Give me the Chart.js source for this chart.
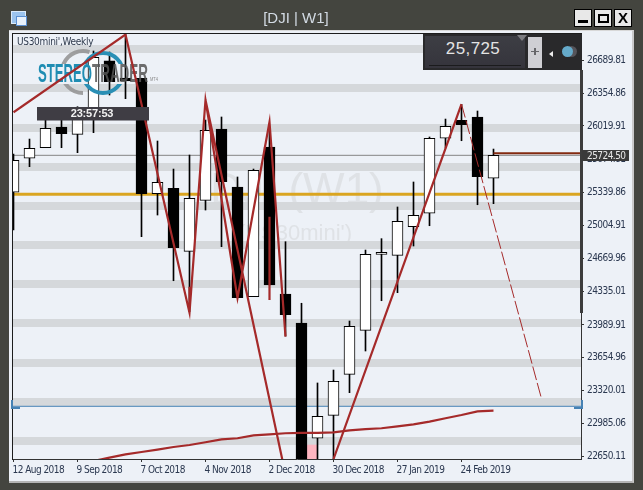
<!DOCTYPE html>
<html>
<head>
<meta charset="utf-8">
<title>[DJI | W1]</title>
<script src="https://cdn.jsdelivr.net/npm/chart.js@4"></script>
<style>
  html, body { margin: 0; padding: 0; background: #44453f; width: 643px; height: 490px; overflow: hidden; font-family: "Liberation Sans", sans-serif; }
  .box { position: absolute; }
  #pane { left: 9px; top: 30px; width: 623px; height: 450px; background: #edf1f7; border-top: 1px solid #d8d8d8; border-right: 2px solid #c9c9c9; border-bottom: 2px solid #b4b4b4; }
  #myChart { position: absolute; left: 0; top: 0; }
  #title { left: 200px; top: 9px; width: 192px; text-align: center; color: #d3dbe4; font-size: 15px; }
  .btn { top: 9px; width: 16px; height: 16px; background: #e8e8e8; border: 1px solid #000; }
</style>
</head>
<body>
<div class="box" id="pane"></div>
<canvas id="myChart" width="643" height="490"></canvas>

<div class="box" style="left:11px;top:11px;width:13px;height:11px;background:#9cc4ee;border:1px solid #dcebfa"></div>
<div class="box" style="left:16px;top:16px;width:9px;height:8px;background:#e8f1fb;border:1px solid #5b8fd0"></div>
<div class="box" id="title">[DJI | W1]</div>

<div class="box btn" style="left:574px"><div class="box" style="left:3px;top:10px;width:10px;height:3px;background:#000"></div></div>
<div class="box btn" style="left:594px"><div class="box" style="left:3px;top:4px;width:7px;height:5px;border:2px solid #000"></div></div>
<div class="box btn" style="left:614px;text-align:center;font-weight:bold;font-size:15px;line-height:16px;color:#000">X</div>

<div class="box" style="left:423px;top:34px;width:159px;height:36px;background:#29292b"></div>
<div class="box" style="left:425px;top:36px;width:100px;height:32px;background:linear-gradient(#3d3e44,#35343c)"></div>
<div class="box" style="left:429px;top:65px;width:92px;height:1px;background:#1b1b1d"></div>
<div class="box" style="left:425px;top:39px;width:96px;text-align:center;color:#e4e4e4;font-size:17px;letter-spacing:.4px">25,725</div>
<div class="box" style="left:517px;top:35px;width:0;height:0;border-left:5px solid transparent;border-right:5px solid transparent;border-top:6px solid #7c7c80"></div>
<div class="box" style="left:528px;top:37px;width:14px;height:31px;background:#cfcfd4"></div>
<div class="box" style="left:531px;top:51px;width:8px;height:1px;background:#66666a"></div>
<div class="box" style="left:534px;top:48px;width:2px;height:7px;background:#66666a"></div>
<div class="box" style="left:549px;top:51px;width:0;height:0;border-top:3px solid transparent;border-bottom:3px solid transparent;border-right:4px solid #eee"></div>
<div class="box" style="left:566px;top:46px;width:11px;height:11px;border-radius:6px;background:#55545a"></div>
<div class="box" style="left:562px;top:46px;width:11px;height:11px;border-radius:6px;background:#66abcb"></div>

<script>
// weekly candles, one entry per week starting 12 Aug 2018
var open_  = [25343,25690,25798,26009,25934,26162,26685,26509,26506,25329,25384,24741,25261,25988,25397,24278,25805,24305,24010,22834,23068,23486,23935,24710,24700,24992,25129,25894,26077,26111,25486];
var high_  = [25733,25886,26080,26101,26216,26784,26774,26952,26506,25866,25580,25723,26080,26111,25499,25580,25999,24839,24211,23398,23530,24030,24754,24870,25193,25448,25907,26090,26240,26172,25784];
var low_   = [24958,25604,25798,25798,25747,25951,26335,26298,24890,25111,24441,24125,25162,24788,24268,24278,24397,23877,22600,22600,22622,23299,23724,24237,24319,24795,25002,25795,25869,25216,25227];
var close_ = [25669,25792,25996,25941,26162,26720,26471,26478,25329,25445,24778,25282,25975,25451,24268,25567,24397,24094,22600,23058,23415,23976,24710,24731,25047,25108,25894,26016,26032,25502,25720];

// slow moving average, starts below the visible range
var maValues = [null,null,null,null,null,22602,22636,22670,22694,22719,22745,22765,22793,22823,22834,22864,22874,22885,22888,22888,22895,22915,22928,22936,22956,22976,23003,23038,23071,23109,23115];

// zigzag lines, week index and price, null breaks the line
var zigWeeks  = [0,7,11,12,14,16,17,null,12,17,null,16,16,null,11,11,null,20,28];
var zigPrices = [26159,26952,24115,26284,24265,26060,23870,null,26284,22465,null,25094,24244,null,24380,24115,null,22622,26243];
var dashWeeks  = [28,33];
var dashPrices = [26243,23238];

var bandPrices = [26804,26407,25999,25601,25203,24805,24407,24010,23602,23204,22806];
var bidPrice = 25720;
var goldPrice = 25322;
var bluePrice = 23160;
var lastPrice = 25724.50;
var brownPrice = 25740;
var pinkWeek = 18.67;
var pinkRange = [22600,22765];

var yTickLabels = ["26689.81","26354.86","26019.91","25674.81","25339.86","25004.91","24669.96","24335.01","23989.91","23654.96","23320.01","22985.06","22650.11"];
var xTickWeeks = [0,4,8,12,16,20,24,28];
var xTickLabels = ["12 Aug 2018","9 Sep 2018","7 Oct 2018","4 Nov 2018","2 Dec 2018","30 Dec 2018","27 Jan 2019","24 Feb 2019"];

var xMin = -0.03125, xMax = 35.469;
var yMin = 22622.5, yMax = 26957.5;
var axisFont = { family: "DejaVu Sans Condensed", size: 10 };
var axisColor = "#2b3850";

function lineSet(xs, ys, color, width, order, dash) {
  return {
    type: "line",
    data: xs.map(function (x, i) { return { x: x === null ? NaN : x, y: ys[i] }; }),
    borderColor: color,
    borderWidth: width,
    borderDash: dash || [],
    borderCapStyle: "butt",
    pointRadius: 0,
    tension: 0,
    spanGaps: false,
    clip: 0,
    order: order
  };
}

function hLine(price, color, width, order) {
  return lineSet([xMin, xMax], [price, price], color, width, order);
}

var datasets = [];
bandPrices.forEach(function (p) { datasets.push(hLine(p, "#d5d8db", 8, 20)); });
datasets.push(hLine(bidPrice, "#858585", 1, 19));
datasets.push(hLine(goldPrice, "#daa520", 3, 19));
datasets.push(hLine(bluePrice, "#4682b4", 1, 19));
datasets.push({
  type: "bar", data: [{ x: pinkWeek, y: pinkRange }], backgroundColor: "#ffb6c1",
  barThickness: 10.5, grouped: false, order: 18
});
datasets.push({
  type: "bar",
  data: high_.map(function (h, i) { return { x: i, y: [low_[i], h] }; }),
  backgroundColor: "#000", barThickness: 1, grouped: false, order: 17
});
datasets.push({
  type: "bar",
  data: open_.map(function (o, i) { return { x: i, y: [o, close_[i]] }; }),
  backgroundColor: open_.map(function (o, i) { return close_[i] >= o ? "#fff" : "#000"; }),
  borderColor: "#000", borderWidth: 1, borderSkipped: false,
  barThickness: 11, grouped: false, order: 16
});
var zigSet = lineSet(zigWeeks, zigPrices, "#a52a2a", 2.2, 5);
datasets.push(zigSet);
datasets.push(lineSet(maValues.map(function (v, i) { return i; }), maValues, "#a52a2a", 2.2, 4));
datasets.push(lineSet(dashWeeks, dashPrices, "#a52a2a", 1, 3, [14, 3]));
datasets.push(lineSet([30, xMax], [brownPrice, brownPrice], "#832a10", 2, 3));

// squeeze a word to a given width, the logo lettering is a condensed face
function fitText(ctx, text, x, y, w, font, color) {
  ctx.save();
  ctx.font = font;
  ctx.fillStyle = color;
  ctx.letterSpacing = "0px";
  ctx.textAlign = "left";
  ctx.textBaseline = "alphabetic";
  var tw = ctx.measureText(text).width;
  ctx.translate(x, y);
  ctx.scale(w / tw, 1);
  ctx.fillText(text, 0, 0);
  ctx.restore();
}

function drawLogo(ctx) {
  ctx.save();
  ctx.beginPath();
  ctx.rect(30, 40, 135, 24);
  ctx.rect(30, 84, 135, 24);
  ctx.clip();
  ctx.lineWidth = 4;
  ctx.strokeStyle = "rgba(150,150,150,0.9)";
  ctx.beginPath();
  ctx.arc(83, 72, 21, Math.PI * 0.5, Math.PI * 1.6);
  ctx.stroke();
  ctx.strokeStyle = "#2a8fb5";
  ctx.beginPath();
  ctx.arc(103, 73, 20, 0, Math.PI * 2);
  ctx.stroke();
  ctx.restore();
  fitText(ctx, "STEREO", 38, 82, 54, "bold 25px 'Liberation Sans'", "#1f8db3");
  fitText(ctx, "TRADER", 92, 82, 56, "bold 25px 'Liberation Sans'", "rgba(85,85,85,0.85)");
  fitText(ctx, "MT4", 150, 81, 8, "5px 'Liberation Sans'", "#8a8a8a");
}

var chromePlugin = {
  id: "chrome",
  beforeDraw: function (chart) {
    chart.ctx.letterSpacing = "-0.55px";
  },
  beforeDatasetsDraw: function (chart) {
    var ctx = chart.ctx;
    ctx.save();
    ctx.letterSpacing = "0px";
    ctx.textAlign = "center";
    ctx.fillStyle = "#dfe2e6";
    ctx.font = "44px 'Liberation Sans'";
    ctx.fillText("DJI (W1)", 297, 204);
    ctx.font = "22px 'Liberation Sans'";
    ctx.fillText("(US30mini')", 295, 240);
    ctx.restore();
  },
  beforeDatasetDraw: function (chart, args) {
    if (chart.data.datasets[args.index] === zigSet) drawLogo(chart.ctx);
  },
  afterDraw: function (chart) {
    var ctx = chart.ctx;
    var y = chart.scales.y.getPixelForValue(lastPrice);
    ctx.save();
    // plot frame and scroll marker
    ctx.fillStyle = "#1d1d1d";
    ctx.fillRect(12, 33, 570, 1);
    ctx.fillRect(12, 33, 1, 427);
    ctx.fillStyle = "#3c3c3c";
    ctx.fillRect(580, 70, 3, 243);
    // blue handles of the horizontal line
    var by = Math.round(chart.scales.y.getPixelForValue(bluePrice));
    ctx.fillStyle = "#4682b4";
    ctx.fillRect(11, by - 6, 2, 9);
    ctx.fillRect(11, by + 1, 9, 2);
    ctx.fillRect(581, by - 6, 2, 9);
    ctx.fillRect(574, by + 1, 9, 2);
    // last price tag
    ctx.fillStyle = "#3a3a3a";
    ctx.fillRect(582, Math.round(y) - 5, 47, 11);
    ctx.fillStyle = "#e8e8e8";
    ctx.font = "10px 'DejaVu Sans Condensed'";
    ctx.textAlign = "left";
    ctx.textBaseline = "middle";
    ctx.fillText(lastPrice.toFixed(2), 587, Math.round(y) + 1);
    // countdown label
    ctx.fillStyle = "#3f3d44";
    ctx.fillRect(37, 107, 112, 13.5);
    ctx.fillStyle = "#f2f2f2";
    ctx.font = "bold 11px 'Liberation Sans'";
    ctx.textAlign = "center";
    ctx.letterSpacing = "-0.2px";
    ctx.fillText("23:57:53", 92, 114);
    // symbol caption
    ctx.fillStyle = "#2f3a4c";
    ctx.font = "10px 'DejaVu Sans Condensed'";
    ctx.textAlign = "left";
    ctx.letterSpacing = "-0.3px";
    ctx.fillText("US30mini',Weekly", 17, 42);
    ctx.restore();
  }
};

new Chart("myChart", {
  type: "bar",
  data: { datasets: datasets },
  plugins: [chromePlugin],
  options: {
    responsive: false,
    animation: false,
    layout: { autoPadding: false, padding: { left: 13, top: 34, right: 0, bottom: 0 } },
    plugins: { legend: { display: false }, tooltip: { enabled: false }, title: { display: false } },
    scales: {
      x: {
        type: "linear", offset: false, min: xMin, max: xMax,
        grid: { drawOnChartArea: false, drawTicks: true, tickLength: 3, tickColor: "#333", offset: false },
        border: { display: true, color: "#333", width: 1 },
        afterBuildTicks: function (s) { s.ticks = xTickWeeks.map(function (v) { return { value: v }; }); },
        afterFit: function (s) { s.height = 31; },
        ticks: {
          autoSkip: false, maxRotation: 0, align: "start", labelOffset: -1, padding: 2,
          font: axisFont, color: axisColor,
          callback: function (v, i) { return xTickLabels[i]; }
        }
      },
      y: {
        type: "linear", position: "right", min: yMin, max: yMax,
        grid: { drawOnChartArea: false, drawTicks: true, tickLength: 3, tickColor: "#333" },
        border: { display: true, color: "#333", width: 1 },
        afterBuildTicks: function (s) { s.ticks = yTickLabels.map(function (v) { return { value: parseFloat(v) }; }); },
        afterFit: function (s) { s.width = 62; },
        ticks: {
          autoSkip: false, padding: 3,
          font: axisFont, color: axisColor,
          callback: function (v, i) { return yTickLabels[i]; }
        }
      }
    }
  }
});
</script>
</body>
</html>
